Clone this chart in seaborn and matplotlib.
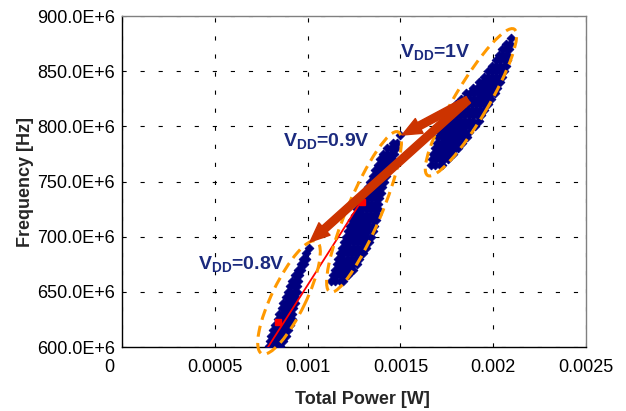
import numpy as np
import pandas as pd
import matplotlib
matplotlib.use("Agg")
import matplotlib.pyplot as plt
import seaborn as sns
from matplotlib.patches import Ellipse, FancyArrowPatch
from matplotlib.transforms import Affine2D, ScaledTranslation

# ---------------- data (power in mW, frequency in MHz) ----------------
rows_1v = [
    (880, [2.096]),
    (875, [2.070, 2.090]),
    (870, [2.050, 2.070, 2.086]),
    (865, [2.030, 2.052, 2.074]),
    (860, [2.017, 2.039, 2.061, 2.074]),
    (855, [1.993, 2.015, 2.037, 2.059, 2.068]),
    (850, [1.970, 1.992, 2.014, 2.036, 2.058]),
    (845, [1.950, 1.972, 1.994, 2.016, 2.038, 2.050]),
    (840, [1.922, 1.944, 1.966, 1.988, 2.010, 2.032, 2.039]),
    (835, [1.890, 1.912, 1.934, 1.956, 1.978, 2.000, 2.022]),
    (830, [1.855, 1.877, 1.899, 1.921, 1.943, 1.965, 1.987, 2.008]),
    (825, [1.825, 1.847, 1.869, 1.891, 1.913, 1.935, 1.957, 1.979, 1.990]),
    (820, [1.798, 1.820, 1.842, 1.864, 1.886, 1.908, 1.930, 1.952, 1.970]),
    (815, [1.775, 1.797, 1.819, 1.841, 1.863, 1.885, 1.907, 1.929, 1.950]),
    (810, [1.757, 1.779, 1.801, 1.823, 1.845, 1.867, 1.889, 1.911, 1.935]),
    (805, [1.738, 1.760, 1.782, 1.804, 1.826, 1.848, 1.870, 1.892, 1.922]),
    (800, [1.723, 1.745, 1.767, 1.789, 1.811, 1.833, 1.855, 1.877, 1.900]),
    (795, [1.713, 1.735, 1.757, 1.779, 1.801, 1.823, 1.845, 1.870]),
    (790, [1.705, 1.727, 1.749, 1.771, 1.793, 1.815, 1.837, 1.857]),
    (785, [1.695, 1.717, 1.739, 1.761, 1.783, 1.805, 1.830]),
    (780, [1.684, 1.706, 1.728, 1.750, 1.772, 1.794, 1.810]),
    (775, [1.676, 1.698, 1.720, 1.742, 1.764, 1.785]),
    (770, [1.670, 1.692, 1.714, 1.736, 1.758]),
    (765, [1.667, 1.689, 1.711, 1.722]),
]

rows_09v = [
    (792, [1.498]),
    (785, [1.462, 1.480]),
    (780, [1.430, 1.452, 1.474]),
    (775, [1.405, 1.427, 1.449, 1.468]),
    (770, [1.390, 1.412, 1.434, 1.456]),
    (765, [1.380, 1.402, 1.424, 1.443]),
    (760, [1.365, 1.387, 1.409, 1.430]),
    (755, [1.350, 1.372, 1.394, 1.420]),
    (750, [1.338, 1.360, 1.382, 1.410]),
    (745, [1.326, 1.348, 1.370, 1.392, 1.403]),
    (740, [1.313, 1.335, 1.357, 1.379, 1.396]),
    (735, [1.298, 1.320, 1.342, 1.364, 1.383]),
    (730, [1.283, 1.305, 1.327, 1.349, 1.371, 1.379]),
    (725, [1.268, 1.290, 1.312, 1.334, 1.356, 1.378]),
    (720, [1.254, 1.276, 1.298, 1.320, 1.342, 1.364, 1.374]),
    (715, [1.240, 1.262, 1.284, 1.306, 1.328, 1.350, 1.368]),
    (710, [1.228, 1.250, 1.272, 1.294, 1.316, 1.338, 1.360]),
    (705, [1.216, 1.238, 1.260, 1.282, 1.304, 1.326, 1.350]),
    (700, [1.207, 1.229, 1.251, 1.273, 1.295, 1.317, 1.340]),
    (695, [1.198, 1.220, 1.242, 1.264, 1.286, 1.308, 1.330]),
    (690, [1.185, 1.207, 1.229, 1.251, 1.273, 1.295, 1.315]),
    (685, [1.175, 1.197, 1.219, 1.241, 1.263, 1.285, 1.300]),
    (680, [1.166, 1.188, 1.210, 1.232, 1.254, 1.278]),
    (675, [1.158, 1.180, 1.202, 1.224, 1.246, 1.266]),
    (670, [1.148, 1.170, 1.192, 1.214, 1.236, 1.245]),
    (665, [1.137, 1.159, 1.181, 1.203, 1.220]),
    (660, [1.128, 1.150, 1.172, 1.190]),
]

rows_08v = [
    (690, [1.010]),
    (685, [0.990]),
    (680, [0.975, 0.990]),
    (675, [0.962, 0.978]),
    (670, [0.950, 0.966]),
    (665, [0.933, 0.955]),
    (660, [0.917, 0.935, 0.948]),
    (655, [0.905, 0.925, 0.945]),
    (650, [0.893, 0.913, 0.933, 0.942]),
    (645, [0.882, 0.902, 0.922, 0.934]),
    (640, [0.870, 0.890, 0.910, 0.930]),
    (635, [0.860, 0.880, 0.900, 0.922]),
    (630, [0.848, 0.868, 0.888, 0.908, 0.918]),
    (625, [0.838, 0.858, 0.878, 0.898, 0.914]),
    (620, [0.827, 0.847, 0.867, 0.887, 0.907]),
    (615, [0.815, 0.835, 0.855, 0.875, 0.895]),
    (610, [0.805, 0.825, 0.845, 0.865, 0.885]),
    (605, [0.797, 0.817, 0.837, 0.857, 0.870]),
    (601, [0.792, 0.812, 0.832, 0.850]),
]

# red trend line and red markers (mW, MHz)
trend_power = [0.787, 1.293]
trend_freq = [600.0, 733.2]
red_pts_power = [0.8405, 1.293]
red_pts_freq = [622.7, 731.4]

# annotations
label_texts = [r"V$_{\mathbf{DD}}$=1V", r"V$_{\mathbf{DD}}$=0.9V", r"V$_{\mathbf{DD}}$=0.8V"]
label_power = [1.498, 0.8675, 0.4095]
label_freq = [861.9, 781.3, 669.8]

arrow_start = (1.864, 823.9)
arrow_tips = [(1.509, 792.1), (1.013, 695.2)]

# ellipses: centre (mW, MHz), length px, width px, angle deg
ell_centers = [(1.880, 821.8), (1.304, 722.4), (0.900, 644.9)]
ell_lengths = [170, 174, 125]
ell_widths = [34, 34, 34]
ell_angles = [59.4, 67.0, 64.1]

x_ticks = [0, 0.0005, 0.001, 0.0015, 0.002, 0.0025]
x_tick_labels = ["0", "0.0005", "0.001", "0.0015", "0.002", "0.0025"]
y_ticks_mhz = [600, 650, 700, 750, 800, 850, 900]

# ---------------- build table ----------------
recs = []
for name, rows in (("1V", rows_1v), ("0.9V", rows_09v), ("0.8V", rows_08v)):
    for f, ps in rows:
        for p in ps:
            recs.append({"vdd": name, "power": p * 1e-3, "freq": f * 1e6})
df = pd.DataFrame(recs)

# ---------------- style ----------------
sns.set_style("white")
plt.rcParams["font.family"] = ["Liberation Sans", "DejaVu Sans"]
plt.rcParams["mathtext.fontset"] = "custom"
plt.rcParams["mathtext.rm"] = "Liberation Sans"
plt.rcParams["mathtext.bf"] = "Liberation Sans:bold"
plt.rcParams["lines.scale_dashes"] = False

fig = plt.figure(figsize=(6.26, 4.11), dpi=100)
fig.patch.set_facecolor("white")
ax = fig.add_axes([122 / 626, 1 - 347 / 411, 464 / 626, 331 / 411])
ax.set_facecolor("white")

XMIN, XMAX = 0.0, 0.0025
YMIN, YMAX = 600e6, 900e6
ax.set_xlim(XMIN, XMAX)
ax.set_ylim(YMIN, YMAX)

sns.scatterplot(data=df, x="power", y="freq", marker="D", color="#000080",
                s=20, linewidth=0.6, edgecolor="#000080", ax=ax, zorder=3, legend=False)

# red trend line + markers
ax.plot(np.array(trend_power) * 1e-3, np.array(trend_freq) * 1e6, color="#FF0000", lw=1.3, zorder=4)
ax.plot(np.array(red_pts_power) * 1e-3, np.array(red_pts_freq) * 1e6, ls="none", marker="s",
        ms=4.2, color="#FF0000", zorder=4)

# pixel-scaled transform for ellipses
sx = (XMAX - XMIN) / 464.0
sy = (YMAX - YMIN) / 331.0
tr = Affine2D().scale(sx, sy) + ax.transData
for (cp, cf), L, W, A in zip(ell_centers, ell_lengths, ell_widths, ell_angles):
    e = Ellipse((cp * 1e-3 / sx, cf * 1e6 / sy), width=L, height=W, angle=A, transform=tr,
                fill=False, edgecolor="#FF9900", lw=2.2, linestyle=(0, (8, 4.5)),
                zorder=5, clip_on=False)
    ax.add_patch(e)

# arrows
for tp, tf in arrow_tips:
    arr = FancyArrowPatch((arrow_start[0] * 1e-3, arrow_start[1] * 1e6), (tp * 1e-3, tf * 1e6),
                          arrowstyle="simple,head_length=14,head_width=12,tail_width=5.5",
                          mutation_scale=1, color="#CC3300", shrinkA=0, shrinkB=0, zorder=6)
    ax.add_patch(arr)

# labels
for t, p, f in zip(label_texts, label_power, label_freq):
    ax.text(p * 1e-3, f * 1e6, t, fontsize=14, fontweight="bold", color="#1B2A7E",
            ha="left", va="baseline", zorder=7)

# ticks and grid
ax.set_xticks(x_ticks)
ax.set_xticklabels(x_tick_labels)
ax.set_yticks([v * 1e6 for v in y_ticks_mhz])
ax.set_yticklabels([f"{v:.1f}E+6" for v in y_ticks_mhz])
ax.tick_params(axis="both", labelsize=13, colors="black")
ax.tick_params(axis="y", direction="out", length=4, width=1, pad=1)
ax.tick_params(axis="x", direction="in", length=5, width=1, pad=9)
ax.grid(True, color="black", lw=0.8, linestyle=(0, (3, 10)))
ax.set_axisbelow(True)

# the "0" label sits left of the origin, as in the original chart
zero_lbl = ax.xaxis.get_major_ticks()[0].label1
zero_lbl.set_transform(zero_lbl.get_transform() +
                       ScaledTranslation(-13 / 100, 0, fig.dpi_scale_trans))

for side in ("left", "bottom"):
    ax.spines[side].set_color("black")
    ax.spines[side].set_linewidth(1.0)
for side in ("top", "right"):
    ax.spines[side].set_color("#808080")
    ax.spines[side].set_linewidth(1.0)

ax.set_xlabel("Total Power [W]", fontsize=13, fontweight="bold")
ax.set_ylabel("Frequency [Hz]", fontsize=13, fontweight="bold")
ax.xaxis.set_label_coords((362 - 122) / 464, (347 - 400) / 331)
ax.xaxis.label.set_va("center")
ax.yaxis.set_label_coords((25 - 122) / 464, 0.5)
ax.yaxis.label.set_va("center")

fig.savefig("out.png", dpi=100, facecolor="white")
